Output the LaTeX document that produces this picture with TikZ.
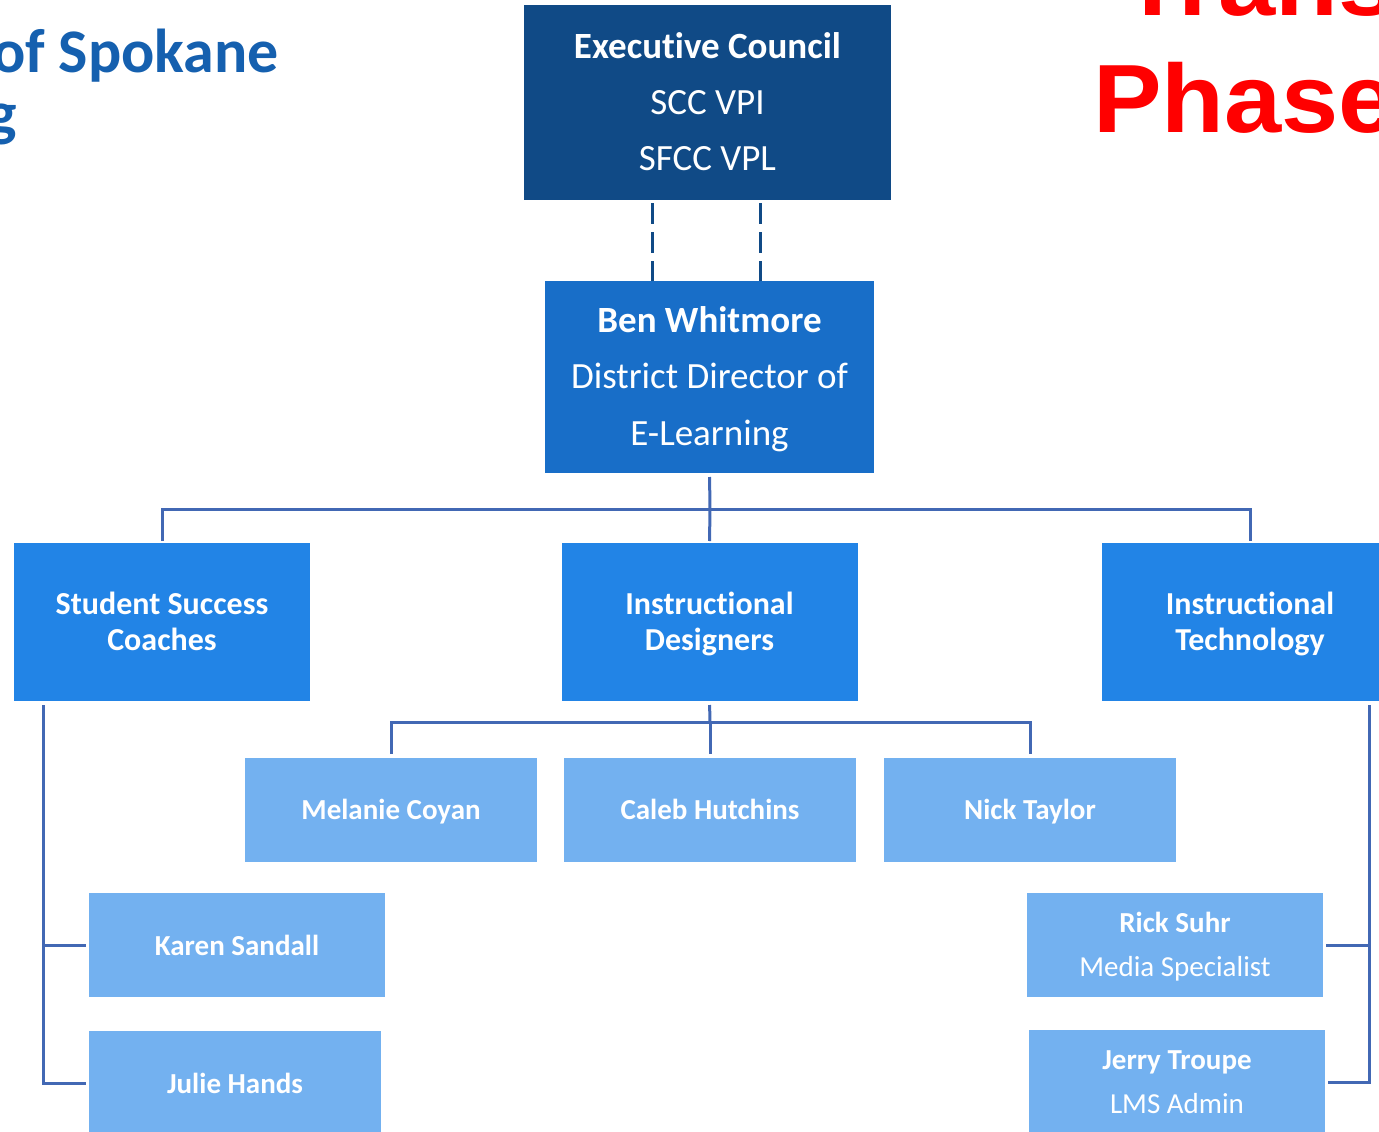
\documentclass[tikz,border=0pt]{standalone}
\usepackage{fontspec}
\setmainfont[Ligatures=NoCommon]{Carlito}
\newfontfamily\headfont[FakeStretch=1.06]{Liberation Sans}
\begin{document}
\begin{tikzpicture}[x=1pt,y=-1pt,
  every node/.style={inner sep=0pt, outer sep=0pt, align=center, text=white},
  % for multi-line texts, text height and depth are measured from the last line
  execbox/.style={fill=execblue, minimum width=367, minimum height=195,
    font=\fontsize{37}{56}\selectfont, text height=142pt, text depth=7pt},
  dirbox/.style={fill=dirblue, minimum width=329, minimum height=192,
    font=\fontsize{37}{56.5}\selectfont, text height=143pt, text depth=7pt},
  teambox/.style={fill=teamblue, minimum width=296, minimum height=158,
    font=\bfseries\fontsize{32}{36}\selectfont, text height=62pt, text depth=6pt},
  staffbox/.style={fill=staffblue, minimum width=292, minimum height=104,
    font=\bfseries\fontsize{29}{30}\selectfont, text height=23pt, text depth=3pt},
  rolebox/.style={fill=staffblue, minimum width=296, minimum height=104,
    font=\fontsize{29}{44}\selectfont, text height=68pt, text depth=6pt},
  conn/.style={draw=linkblue, line width=3pt},
  dashlink/.style={draw=execblue, line width=3pt, dash pattern=on 21pt off 8pt},
]
\definecolor{execblue}{RGB}{16,74,134}
\definecolor{dirblue}{RGB}{24,110,200}
\definecolor{teamblue}{RGB}{34,132,230}
\definecolor{staffblue}{RGB}{115,177,240}
\definecolor{linkblue}{RGB}{66,104,180}
\definecolor{titleblue}{RGB}{21,96,175}
\definecolor{phasered}{RGB}{255,0,0}

\useasboundingbox (0,0) rectangle (1379,1132);
\clip (0,0) rectangle (1379,1132);

% heading fragments
\node[anchor=base east, text=titleblue, font=\bfseries\fontsize{62}{70}\selectfont] (title1) at (279,73) {of Spokane};
\node[anchor=base east, text=titleblue, font=\bfseries\fontsize{62}{70}\selectfont] (title2) at (17,134) {g};
\node[anchor=base west, text=phasered, font=\headfont\bfseries\fontsize{97}{110}\selectfont] (trans) at (1121,16) {Trans};
\node[anchor=base west, text=phasered, font=\headfont\bfseries\fontsize{97}{110}\selectfont] (phase) at (1093,132) {Phase};

% leadership
\node[execbox] (exec) at (707.5,102.5) {\textbf{Executive Council}\\SCC VPI\\SFCC VPL};
\node[dirbox] (ben) at (709.5,377) {\textbf{Ben Whitmore}\\District Director of\\E-Learning};

% teams
\node[teambox] (ssc) at (162,622) {Student Success\\Coaches};
\node[teambox] (idg) at (709.5,622) {Instructional\\Designers};
\node[teambox] (itc) at (1250,622) {Instructional\\Technology};

% designers
\node[staffbox] (mel) at (391,809.5) {Melanie Coyan};
\node[staffbox] (cal) at (710,809.5) {Caleb Hutchins};
\node[staffbox] (nick) at (1030,809.5) {Nick Taylor};

% coaches
\node[staffbox, minimum width=296] (karen) at (237,945) {Karen Sandall};
\node[staffbox] (julie) at (235,1083) {Julie Hands};

% technology
\node[rolebox] (rick) at (1175,945) {\textbf{Rick Suhr}\\Media Specialist};
\node[rolebox] (jerry) at (1177,1082) {\textbf{Jerry Troupe}\\LMS Admin};

% dashed links from the council
\draw[dashlink] ([xshift=-55.5pt,yshift=-3pt]exec.south) -- ([xshift=-57.5pt]ben.north);
\draw[dashlink] ([xshift=52.5pt,yshift=-3pt]exec.south) -- ([xshift=50.5pt]ben.north);

% director to teams
\coordinate (bus) at (710,509);
\draw[conn, shorten <=4pt] (ben.south) -- (bus);
\draw[conn, shorten >=2pt] (bus) -- (idg.north);
\draw[conn, shorten <=2pt, shorten >=2pt] (ssc.north) |- (bus) -| (itc.north);

% designers
\coordinate (dbus) at (710,722);
\draw[conn, shorten <=4pt] (idg.south) -- (dbus);
\draw[conn, shorten >=4pt] (dbus) -- (cal.north);
\draw[conn, shorten <=4pt, shorten >=4pt] (mel.north) |- (dbus) -| (nick.north);

% coaches
\coordinate (cspine) at (43,705);
\draw[conn, shorten >=3pt] (cspine) |- (karen.west);
\draw[conn, shorten >=3pt] (cspine) |- (julie.west);

% technology
\coordinate (tspine) at (1369,705);
\draw[conn, shorten >=3pt] (tspine) |- (rick.east);
\draw[conn, shorten >=3pt] (tspine) |- (jerry.east);
\end{tikzpicture}
\end{document}
